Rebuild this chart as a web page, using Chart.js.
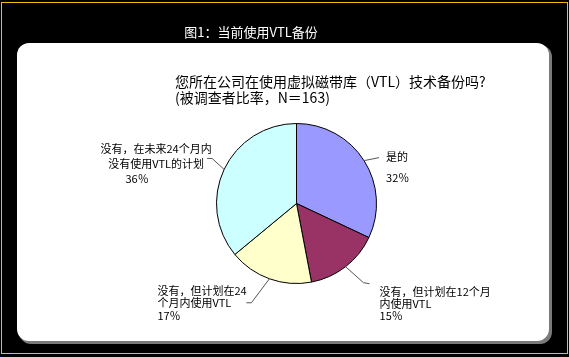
<!DOCTYPE html>
<html>
<head>
<meta charset="utf-8">
<script src="https://cdn.jsdelivr.net/npm/chart.js@4"></script>
<style>
  html, body { margin: 0; padding: 0; background: #000; }
  #c { display: block; }
</style>
</head>
<body>
<canvas id="c" width="569" height="357"></canvas>
<script>
// ---- data ----
const categories = [
  ['是的'],
  ['没有，但计划在12个月', '内使用VTL'],
  ['没有，但计划在24', '个月内使用VTL'],
  ['没有，在未来24个月内', '没有使用VTL的计划']
];
const values = [32, 15, 17, 36];
const mainTitle = '图1：当前使用VTL备份';
const chartTitle = ['您所在公司在使用虚拟磁带库（VTL）技术备份吗?', '(被调查者比率，N＝163)'];

// ---- style ----
const sliceColors = ['#9999FF', '#993366', '#FFFFCC', '#CCFFFF'];
const labelFont = '11px "Noto Sans CJK SC", "Noto Sans", sans-serif';
// leader/label layout relative to slice edge point
const labelLayout = [
  { pts: [[15, -3]], tx: 22, ty: -4, align: 'left', lh: 21 },
  { pts: [[18, 16], [24, 17]], tx: 34, ty: 25, align: 'left', lh: 12 },
  { pts: [[-18, 24], [-23, 24]], tx: -112, ty: 12, align: 'left', lh: 12.5 },
  { pts: [[-12, -11], [-17, -11]], tx: -68, ty: -21, align: 'center', lh: 15, lastDx: -19 }
];

const framePlugin = {
  id: 'frame',
  beforeDraw(chart) {
    const ctx = chart.ctx;
    ctx.save();
    ctx.fillStyle = '#000';
    ctx.fillRect(0, 0, chart.width, chart.height);
    ctx.strokeStyle = '#F2C200';
    ctx.lineWidth = 1;
    ctx.strokeRect(1.5, 2.5, 566, 351);
    // panel shadow
    const rr = (x, y, w, h, r) => {
      ctx.beginPath();
      ctx.moveTo(x + r, y);
      ctx.arcTo(x + w, y, x + w, y + h, r);
      ctx.arcTo(x + w, y + h, x, y + h, r);
      ctx.arcTo(x, y + h, x, y, r);
      ctx.arcTo(x, y, x + w, y, r);
      ctx.closePath();
    };
    ctx.fillStyle = '#7a7a7a';
    rr(19, 45, 533, 299, 12);
    ctx.fill();
    ctx.fillStyle = '#ffffff';
    rr(17, 43, 532, 298, 12);
    ctx.fill();
    // main title
    ctx.fillStyle = '#ffffff';
    ctx.font = '13px "Noto Sans CJK SC", sans-serif';
    ctx.textAlign = 'center';
    ctx.textBaseline = 'middle';
    ctx.fillText(mainTitle, 251, 32);
    // chart title
    ctx.fillStyle = '#000';
    ctx.font = '14px "Noto Sans CJK SC", sans-serif';
    ctx.textAlign = 'left';
    ctx.fillText(chartTitle[0], 175, 82);
    ctx.fillText(chartTitle[1], 175, 98);
    ctx.restore();
  }
};

const labelPlugin = {
  id: 'sliceLabels',
  afterDatasetsDraw(chart) {
    const ctx = chart.ctx;
    const meta = chart.getDatasetMeta(0);
    const total = values.reduce((a, b) => a + b, 0);
    ctx.save();
    meta.data.forEach((arc, i) => {
      const p = arc.getProps(['x', 'y', 'startAngle', 'endAngle', 'outerRadius'], true);
      const mid = (p.startAngle + p.endAngle) / 2;
      const ex = p.x + Math.cos(mid) * p.outerRadius;
      const ey = p.y + Math.sin(mid) * p.outerRadius;
      const L = labelLayout[i];
      ctx.strokeStyle = '#555';
      ctx.lineWidth = 1;
      ctx.beginPath();
      ctx.moveTo(ex, ey);
      L.pts.forEach(([dx, dy]) => ctx.lineTo(ex + dx, ey + dy));
      ctx.stroke();
      ctx.fillStyle = '#000';
      ctx.font = labelFont;
      ctx.textAlign = L.align;
      ctx.textBaseline = 'middle';
      const lines = categories[i].concat([Math.round(values[i] / total * 100) + '％']);
      lines.forEach((t, k) => {
        let x = ex + L.tx;
        if (k === lines.length - 1 && L.lastDx) x += L.lastDx;
        ctx.fillText(t, x, ey + L.ty + k * L.lh);
      });
    });
    ctx.restore();
  }
};

new Chart(document.getElementById('c'), {
  type: 'pie',
  data: {
    labels: categories,
    datasets: [{
      data: values,
      backgroundColor: sliceColors,
      borderColor: '#000',
      borderWidth: 1
    }]
  },
  options: {
    responsive: false,
    animation: false,
    layout: { padding: { left: 216, right: 192, top: 123, bottom: 73 } },
    plugins: {
      legend: { display: false },
      tooltip: { enabled: false },
      title: { display: false }
    }
  },
  plugins: [framePlugin, labelPlugin]
});
</script>
</body>
</html>
